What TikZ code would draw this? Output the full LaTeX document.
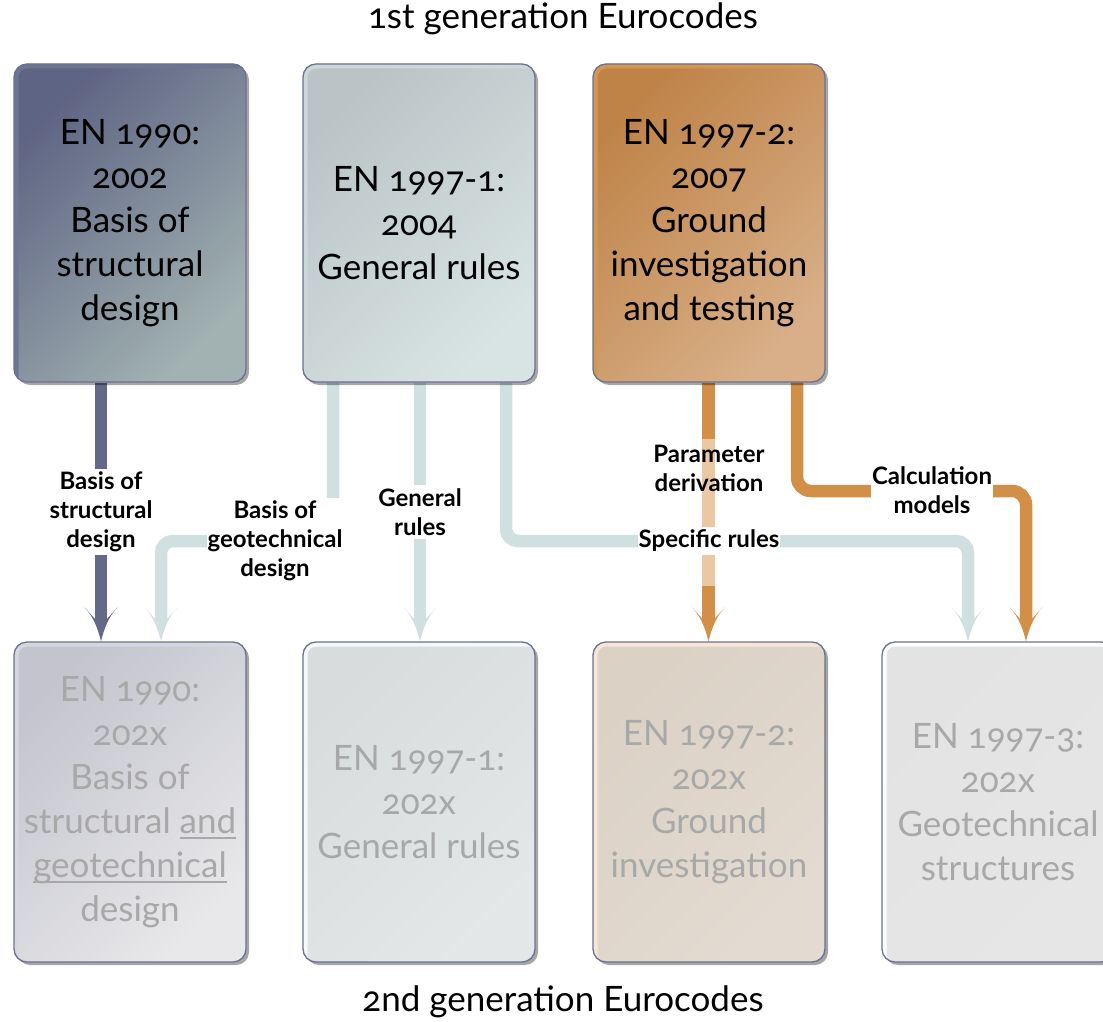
\documentclass[tikz,border=0pt]{standalone}
\usepackage{fontspec}
\setmainfont{Lato}[Numbers=OldStyle]
\usetikzlibrary{calc,shadows}
\definecolor{cDark}{HTML}{646987}
\definecolor{cTeal}{HTML}{D0DFDF}
\definecolor{cOr}{HTML}{D18F48}
\definecolor{cOrL}{HTML}{E9C8A3}
\definecolor{bordC}{HTML}{6B7193}
\definecolor{txtG}{HTML}{A8A8A8}
\definecolor{aT}{HTML}{5E6483}\definecolor{aB}{HTML}{A2B2B2}\definecolor{aH}{HTML}{6E7592}
\definecolor{bT}{HTML}{BAC4C6}\definecolor{bB}{HTML}{D8E3E3}\definecolor{bH}{HTML}{CCD8D8}
\definecolor{cT}{HTML}{BF8348}\definecolor{cB}{HTML}{D8AF88}\definecolor{cH}{HTML}{D4974F}
\definecolor{dT}{HTML}{C3C4CD}\definecolor{dB}{HTML}{E8E8EA}\definecolor{dH}{HTML}{D6D7DE}
\definecolor{eT}{HTML}{D8DCDC}\definecolor{eB}{HTML}{E3E7E7}\definecolor{eH}{HTML}{F4F8F8}
\definecolor{fT}{HTML}{DBD1C5}\definecolor{fB}{HTML}{E3DAD1}\definecolor{fH}{HTML}{F6E6D6}
\definecolor{gT}{HTML}{E3E3E3}\definecolor{gB}{HTML}{E6E6E6}\definecolor{gH}{HTML}{FFFFFF}
\pgfdeclarelayer{bg}
\pgfsetlayers{bg,main}
\newcommand\ulx[1]{\setbox0\hbox{#1}\rlap{\rule[-5.5pt]{\wd0}{1.8pt}}\box0}
\tikzset{
  box/.style={draw=bordC, line width=1.3pt, rounded corners=13pt,
    minimum width=232pt, minimum height=318pt, inner sep=0pt, align=center,
    font=\fontsize{35}{44}\selectfont,
    drop shadow={shadow xshift=3pt, shadow yshift=-3pt, fill=black, opacity=0.35}},
  boxfill/.style n args={3}{top color=#1, bottom color=#2, shading angle=45,
    path picture={\draw[#3, line width=9pt] (path picture bounding box.south west)
      -- (path picture bounding box.north west) -- (path picture bounding box.north east);}},
  conn/.style={line width=12.5pt, rounded corners=12pt},
  lab/.style={font=\bfseries\fontsize{24}{29}\selectfont, align=center, fill=white,
    inner xsep=1pt, inner ysep=3pt},
  ttl/.style={font=\fontsize{35}{44}\selectfont, anchor=base},
  ahead/.pic={\fill (0,0) .. controls (-3,-12) and (-7,-24) .. (-16.5,-34)
      -- (-6.5,-23) -- (6.5,-23) -- (16.5,-34) .. controls (7,-24) and (3,-12) .. (0,0) -- cycle;}
}
\begin{document}
\begin{tikzpicture}[x=1pt,y=-1pt]
\useasboundingbox (0,0) rectangle (1103,1022);

% titles
\node[ttl] (t1) at (563,29) {1st generation Eurocodes};
\node[ttl] (t2) at (563,1011) {2nd generation Eurocodes};

% first generation
\node[box, boxfill={aT}{aB}{aH}, text=black] (b1) at (130,223)
  {EN 1990:\\2002\\Basis of\\structural\\design};
\node[box, boxfill={bT}{bB}{bH}, text=black] (b2) at (419,223)
  {EN 1997-1:\\2004\\General rules};
\node[box, boxfill={cT}{cB}{cH}, text=black] (b3) at (709,223)
  {EN 1997-2:\\2007\\Ground\\investigation\\and testing};

% second generation
\node[box, minimum height=320pt, boxfill={dT}{dB}{dH}, text=txtG] (b4) at (130,802)
  {EN 1990:\\202x\\Basis of\\structural \ulx{and}\\\ulx{geotechnical}\\design};
\node[box, minimum height=320pt, boxfill={eT}{eB}{eH}, text=txtG] (b5) at (419,802)
  {EN 1997-1:\\202x\\General rules};
\node[box, minimum height=320pt, boxfill={fT}{fB}{fH}, text=txtG] (b6) at (709,802)
  {EN 1997-2:\\202x\\Ground\\investigation};
\node[box, minimum height=320pt, boxfill={gT}{gB}{gH}, text=txtG] (b7) at (998,802)
  {EN 1997-3:\\202x\\Geotechnical\\structures};

% connectors
\begin{pgfonlayer}{bg}
  \draw[conn, cDark] (101,0 |- b1.south) -- ($(101,0 |- b4.north)+(0,-22)$);
  \draw[conn, cTeal] (333,0 |- b2.south) -- (333,541) -- (161,541) -- ($(161,0 |- b4.north)+(0,-22)$);
  \draw[conn, cTeal] (420,0 |- b2.south) -- ($(420,0 |- b5.north)+(0,-22)$);
  \draw[conn, cTeal] (506,0 |- b2.south) -- (506,541) -- (968,541) -- ($(968,0 |- b7.north)+(0,-22)$);
  \draw[conn, cOr] (708.5,0 |- b3.south) -- ($(708.5,0 |- b6.north)+(0,-22)$);
  \draw[line width=12.5pt, cOrL] (708.5,439) -- (708.5,586);
  \draw[conn, cOr, rounded corners=14pt] (797,0 |- b3.south) -- (797,491) -- (1026,491) -- ($(1026,0 |- b7.north)+(0,-22)$);
\end{pgfonlayer}
\pic[cDark] at (101,0 |- b4.north) {ahead};
\pic[cTeal] at (161,0 |- b4.north) {ahead};
\pic[cTeal] at (420,0 |- b5.north) {ahead};
\pic[cOr] at (708.5,0 |- b6.north) {ahead};
\pic[cTeal] at (968,0 |- b7.north) {ahead};
\pic[cOr] at (1026,0 |- b7.north) {ahead};

% labels
\node[lab] (l1) at (101,512) {Basis of\\structural\\design};
\node[lab] (l2) at (275,541) {Basis of\\geotechnical\\design};
\node[lab] (l3) at (420,512) {General\\rules};
\node[lab, fill=none] (l4) at (709,468) {Parameter\\derivation};
\node[lab] (l5) at (709,541) {Specific rules};
\node[lab] (l6) at (932,490) {Calculation\\models};
\end{tikzpicture}
\end{document}
